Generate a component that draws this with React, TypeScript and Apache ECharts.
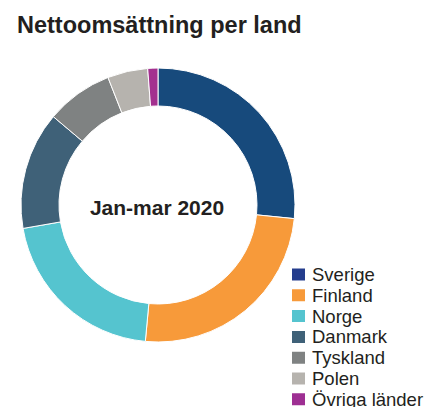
import React, { useEffect, useRef } from "react";
import * as echarts from "echarts";

const titleText = "Nettoomsättning per land";
const centerText = "Jan-mar 2020";
const countries = ["Sverige", "Finland", "Norge", "Danmark", "Tyskland", "Polen", "Övriga länder"];
const shares = [26.6, 24.9, 20.8, 13.9, 7.9, 4.75, 1.2];
const sliceColors = ["#174a7c", "#f79a3a", "#55c4cf", "#3f6178", "#7f8282", "#b6b3ae", "#a3308f"];
const legendColors = ["#243d8d", "#f79a3a", "#55c4cf", "#3f6178", "#7f8282", "#b6b3ae", "#9e2f93"];

const FONT = "'Liberation Sans', Arial, Helvetica, sans-serif";

export default function App() {
  const ref = useRef<HTMLDivElement>(null);
  useEffect(() => {
    if (!ref.current) return;
    const chart = echarts.init(ref.current, undefined, { renderer: "svg" });
    chart.setOption({
      animation: false,
      backgroundColor: "#ffffff",
      title: {
        text: titleText,
        left: 12,
        top: 8,
        textStyle: { fontFamily: FONT, fontSize: 23.5, fontWeight: "bold", color: "#231f20" },
      },
      legend: {
        orient: "vertical",
        left: 290,
        top: 265,
        width: 137,
        height: 160,
        padding: 0,
        itemWidth: 15,
        itemHeight: 14,
        itemGap: 1.8,
        icon: "rect",
        textStyle: { fontFamily: FONT, fontSize: 18.5, color: "#231f20", padding: [0, 0, 0, 1] },
        data: countries.map((name, i) => ({ name, itemStyle: { color: legendColors[i] } })),
      },
      graphic: [
        {
          type: "text",
          x: 157,
          y: 207,
          style: {
            text: centerText,
            fontFamily: FONT,
            fontSize: 21,
            fontWeight: "bold",
            fill: "#231f20",
            align: "center",
            verticalAlign: "middle",
          },
        },
      ],
      series: [
        {
          type: "pie",
          center: [158, 205],
          radius: [99, 137],
          startAngle: 90,
          clockwise: true,
          label: { show: false },
          labelLine: { show: false },
          emphasis: { disabled: true },
          itemStyle: { borderColor: "#ffffff", borderWidth: 1 },
          data: countries.map((name, i) => ({
            name,
            value: shares[i],
            itemStyle: { color: sliceColors[i] },
          })),
        },
      ],
    });
    return () => chart.dispose();
  }, []);
  return (
    <div
      ref={ref}
      style={{ position: "fixed", left: 0, top: 0, width: 427, height: 407 }}
    />
  );
}
